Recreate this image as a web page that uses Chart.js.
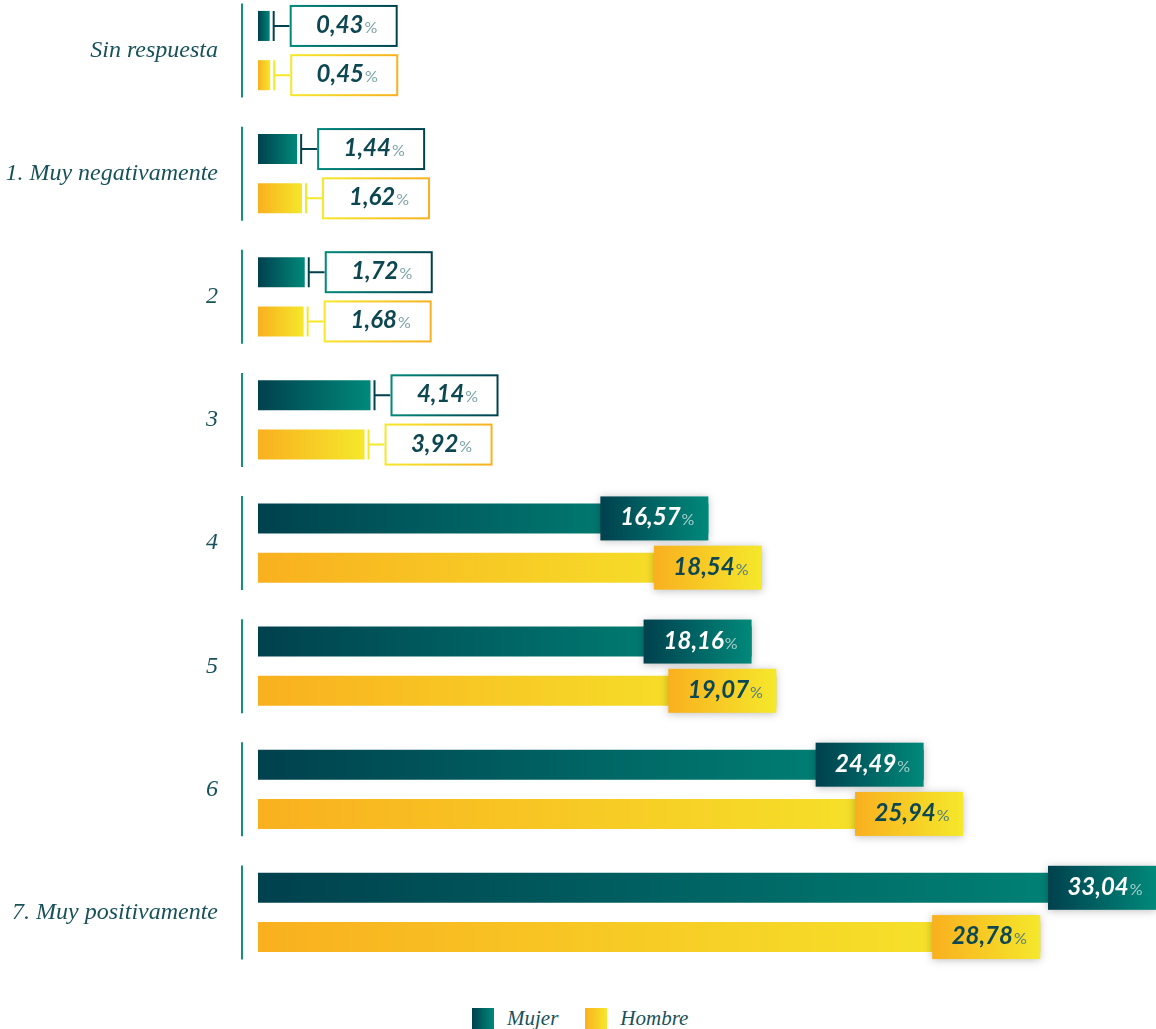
<!DOCTYPE html>
<html>
<head>
<meta charset="utf-8">
<script src="https://cdn.jsdelivr.net/npm/chart.js@4"></script>
<style>
  body { margin: 0; background: #fff; overflow: hidden; }
  #wrap { position: relative; width: 1156px; height: 1029px; }
  #myChart { position: absolute; left: 0; top: -11px; }
  #legend { position: absolute; top: 1006px; left: 472px; display: flex; align-items: center; }
  #legend .item { display: flex; align-items: center; margin-right: 27px; }
  #legend .sw { width: 22px; height: 22px; margin-right: 13px; }
  #legend span { font-family: "Liberation Serif", serif; font-style: italic; font-size: 21px; color: #17525b; }
</style>
</head>
<body>
<div id="wrap">
  <canvas id="myChart" width="1156" height="985"></canvas>
  <div id="legend"></div>
</div>
<script>
var categories = ["Sin respuesta", "1. Muy negativamente", "2", "3", "4", "5", "6", "7. Muy positivamente"];
var mujer = [0.43, 1.44, 1.72, 4.14, 16.57, 18.16, 24.49, 33.04];
var hombre = [0.45, 1.62, 1.68, 3.92, 18.54, 19.07, 25.94, 28.78];
var seriesNames = ["Mujer", "Hombre"];

// colours per series: gradient stops, text in filled box, % in filled box
var styles = [
  { stops: ["#00414e", "#00897a"], fillText: "#ffffff", fillPct: "#a9cfcb" },
  { stops: ["#f9b01f", "#f5e82b"], fillText: "#0c4752", fillPct: "#4f7d7f" }
];

function grad(ctx, x0, x1, stops) {
  var g = ctx.createLinearGradient(x0, 0, x1, 0);
  g.addColorStop(0, stops[0]);
  g.addColorStop(1, stops[1]);
  return g;
}

function barColor(i) {
  return function(c) {
    var x = c.chart.scales.x;
    if (c.type !== "data" || !x) return styles[i].stops[1];
    var x0 = x.getPixelForValue(0), x1 = x.getPixelForValue(c.raw);
    if (!isFinite(x0) || !isFinite(x1) || x0 === x1) return styles[i].stops[1];
    return grad(c.chart.ctx, x0, x1, styles[i].stops);
  };
}

var labelsPlugin = {
  id: "labels",
  afterDatasetsDraw: function(chart) {
    var ctx = chart.ctx;
    var yS = chart.scales.y;
    var left = chart.chartArea.left;
    ctx.save();
    // separators per category
    ctx.strokeStyle = "#139080";
    ctx.lineWidth = 2;
    categories.forEach(function(c, i) {
      var y = yS.getPixelForValue(i);
      ctx.beginPath();
      ctx.moveTo(left - 16, y - 47);
      ctx.lineTo(left - 16, y + 47);
      ctx.stroke();
    });

    chart.data.datasets.forEach(function(ds, d) {
      var st = styles[d];
      chart.getDatasetMeta(d).data.forEach(function(el, i) {
        var v = ds.data[i];
        var txt = v.toFixed(2).replace(".", ",");
        var bx, by, bw = 108, bh, numColor, pctColor;
        if (v < 10) {
          bh = 42;
          bx = el.x + 20;
          by = el.y - bh / 2;
          ctx.strokeStyle = st.stops[d === 0 ? 0 : 1];
          ctx.lineWidth = 2;
          ctx.beginPath();
          ctx.moveTo(el.x + 4, el.y - 15);
          ctx.lineTo(el.x + 4, el.y + 15);
          ctx.moveTo(el.x + 4, el.y);
          ctx.lineTo(bx, el.y);
          ctx.stroke();
          ctx.fillStyle = "#fff";
          ctx.fillRect(bx, by, bw, bh);
          ctx.strokeStyle = grad(ctx, bx, bx + bw, [st.stops[1], st.stops[0]]);
          ctx.strokeRect(bx + 1, by + 1, bw - 2, bh - 2);
          numColor = "#0c4752";
          pctColor = "#7aa3a8";
        } else {
          bh = 44;
          bx = el.x - bw;
          by = el.y - bh / 2;
          ctx.save();
          ctx.shadowColor = "rgba(0,0,0,0.25)";
          ctx.shadowBlur = 8;
          ctx.shadowOffsetY = 1;
          ctx.fillStyle = grad(ctx, bx, bx + bw, st.stops);
          ctx.fillRect(bx, by, bw, bh);
          ctx.restore();
          numColor = st.fillText;
          pctColor = st.fillPct;
        }
        ctx.textBaseline = "alphabetic";
        ctx.textAlign = "left";
        ctx.font = "italic bold 24px Lato";
        var w1 = ctx.measureText(txt).width;
        ctx.font = "16px Lato";
        var w2 = ctx.measureText("%").width;
        var tx = bx + (bw - w1 - w2 - 1) / 2 + 3;
        var ty = el.y + 7;
        ctx.font = "italic bold 24px Lato";
        ctx.fillStyle = numColor;
        ctx.fillText(txt, tx, ty);
        ctx.font = "16px Lato";
        ctx.fillStyle = pctColor;
        ctx.fillText("%", tx + w1 + 1, ty);
      });
    });
    ctx.restore();
  }
};

var chart = new Chart(document.getElementById("myChart").getContext("2d"), {
  type: "bar",
  data: {
    labels: categories,
    datasets: [
      { label: seriesNames[0], data: mujer, backgroundColor: barColor(0) },
      { label: seriesNames[1], data: hombre, backgroundColor: barColor(1) }
    ]
  },
  options: {
    indexAxis: "y",
    responsive: false,
    animation: false,
    events: [],
    categoryPercentage: 0.8,
    barPercentage: 0.61,
    layout: { padding: 0 },
    plugins: { legend: { display: false }, tooltip: { enabled: false } },
    scales: {
      x: { display: false, min: 0, max: 33.04 },
      y: {
        grid: { display: false, drawTicks: false },
        border: { display: false },
        afterFit: function(s) {
          s.width = 258;
          s.paddingTop = 0;
          s.paddingBottom = 0;
        },
        ticks: {
          padding: 40,
          color: "#17525b",
          font: { family: "Liberation Serif", style: "italic", size: 24 }
        }
      }
    }
  },
  plugins: [labelsPlugin]
});

// legend
var lg = document.getElementById("legend");
seriesNames.forEach(function(n, i) {
  var it = document.createElement("div");
  it.className = "item";
  it.innerHTML = "<div class='sw' style='background:linear-gradient(to right," + styles[i].stops[0] + "," + styles[i].stops[1] + ")'></div><span>" + n + "</span>";
  lg.appendChild(it);
});
</script>
</body>
</html>
